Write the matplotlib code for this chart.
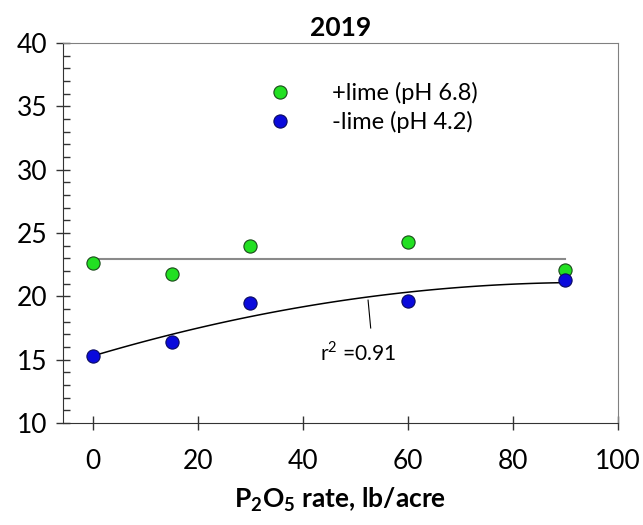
"""P2O5 rate response, 2019."""

import matplotlib.pyplot as plt
import numpy as np
from matplotlib.ticker import MultipleLocator

plt.rcParams["font.family"] = ["Lato", "DejaVu Sans"]
plt.rcParams["mathtext.fontset"] = "custom"
plt.rcParams["mathtext.rm"] = "Lato"
plt.rcParams["mathtext.bf"] = "Lato:bold"

p_rate = [0, 15, 30, 60, 90]
plus_lime = [22.6, 21.8, 24.0, 24.3, 22.1]
minus_lime = [15.3, 16.4, 19.5, 19.6, 21.3]
r2_label = "r$^{2}$ =0.91"

fig = plt.figure(figsize=(6.43, 5.25), dpi=100)
ax = fig.add_axes([63 / 643, 102 / 525, 555 / 643, 380 / 525])

x = np.array(p_rate, dtype=float)
xs = np.linspace(0, 90, 100)

# +lime: flat line at the mean
ax.plot([0, 90], [np.mean(plus_lime)] * 2, color="#8a8a8a", lw=1.5, zorder=1)
# -lime: quadratic fit
coef = np.polyfit(x, minus_lime, 2)
ax.plot(xs, np.polyval(coef, xs), color="black", lw=1.1, zorder=1)

ax.plot(p_rate, plus_lime, "o", ms=9.5, mfc="#22e022", mec="#1a4a1a",
        mew=0.8, ls="none", label="+lime (pH 6.8)", zorder=3)
ax.plot(p_rate, minus_lime, "o", ms=9.5, mfc="#0a0adc", mec="#0a0a60",
        mew=0.8, ls="none", label="-lime (pH 4.2)", zorder=3)

# r2 label with leader line
ax.plot([52.4, 52.9], [19.7, 17.5], color="black", lw=0.8)
ax.text(50.5, 15.6, r2_label, fontsize=15, ha="center", va="center")

ax.set_xlim(-5.7, 100)
ax.set_ylim(10, 40)
ax.set_xticks([0, 20, 40, 60, 80, 100])
ax.yaxis.set_major_locator(MultipleLocator(5))
ax.yaxis.set_minor_locator(MultipleLocator(1))
ax.tick_params(axis="both", which="major", direction="inout", length=10,
               width=1, labelsize=19, color="#333333")
ax.tick_params(axis="y", which="minor", direction="in", length=5, width=1,
               color="#333333")
ax.tick_params(axis="x", pad=14)
ax.tick_params(axis="y", pad=6)

for side in ["left", "bottom"]:
    ax.spines[side].set_color("#333333")
for side in ["top", "right"]:
    ax.spines[side].set_color("#808080")

ax.set_title("2019", fontsize=19, fontweight="bold", pad=5)
ax.set_xlabel("P$_\\mathbf{2}$O$_\\mathbf{5}$ rate, lb/acre", fontsize=19,
              fontweight="bold", labelpad=8)

ax.legend(loc="center left", bbox_to_anchor=(0.332, 0.83), frameon=False,
          fontsize=17, handletextpad=1.2, labelspacing=0.3, borderaxespad=0)

fig.savefig("out.png", dpi=100)
